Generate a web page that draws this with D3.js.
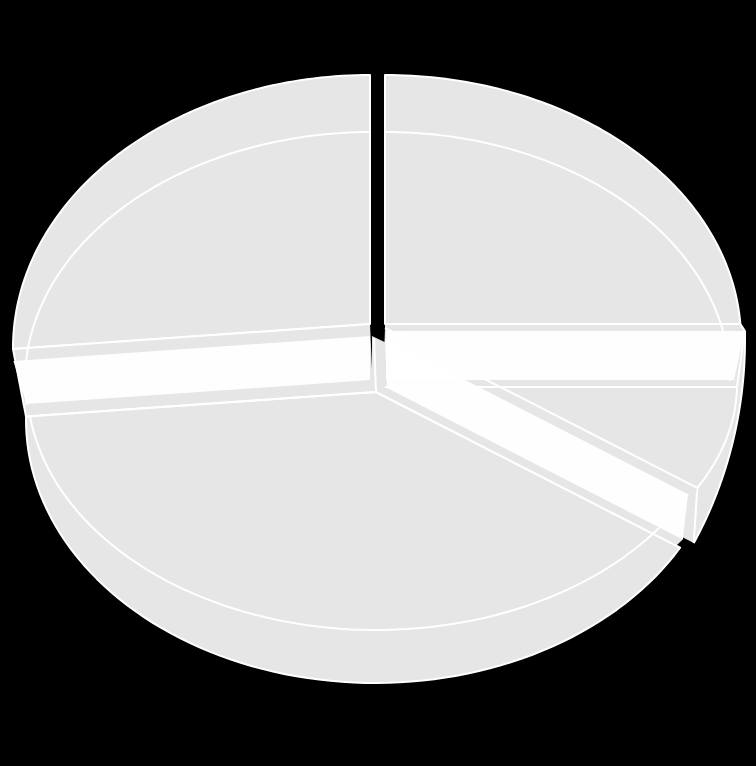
<!DOCTYPE html>
<html>
<head>
<meta charset="utf-8">
<script src="https://cdn.jsdelivr.net/npm/d3@7"></script>
<style>
	html,body{margin:0;padding:0;background:#000;}
	svg{display:block;}
</style>
</head>
<body>
<svg id="chart" width="756" height="766"></svg>
<script>
// slices, clockwise from 12 o'clock. the original has no labels
var sliceNames = ["topRight","smallRight","bottom","topLeft"];
var sliceValues = [25,10.1,38.3,26.6];

var GREY = "#e6e6e6";
var FLAT = 249/358; // how much the pie is squashed, sets the direction of the cuts

var pie = d3.pie().sort(null).value(function(d){ return d; });
var arcs = pie(sliceValues);
var cutTop = arcs[0].startAngle;
var cutRight = arcs[0].endAngle;
var cutDiag = arcs[1].endAngle;
var cutLeft = arcs[2].endAngle;
var cutTopEnd = arcs[3].endAngle;

// ellipses the pie is built from (pixels)
function ring(cx,cy,rx,ry){ return {cx:cx,cy:cy,rx:rx,ry:ry}; }
var rTL = ring(370,348,357,273);
var rTLlow = ring(372,381,347,249);
var rTR = ring(385,340,356,265);
var rTRlow = ring(385,381,345,249);
var rTRband = ring(385,381,349,249);
var rSmallWall = ring(385,340,360,395);
var rSmallTop = ring(385,384,352,225);
var rBig = ring(375,420,349,263);
var rBigTop = ring(376,384,349,246);
var rCut = ring(376,392,373,259);

// where a cut starting at p in direction a meets the ellipse
function hit(r,p,a){
	var dx = Math.sin(a), dy = -Math.cos(a)*FLAT;
	var ox = (p[0]-r.cx)/r.rx, oy = (p[1]-r.cy)/r.ry;
	var ux = dx/r.rx, uy = dy/r.ry;
	var A = ux*ux+uy*uy, B = 2*(ox*ux+oy*uy), C = ox*ox+oy*oy-1;
	var t = (-B+Math.sqrt(B*B-4*A*C))/(2*A);
	return [p[0]+t*dx,p[1]+t*dy];
}

function theta(r,p){
	return Math.atan2((p[0]-r.cx)/r.rx,-(p[1]-r.cy)/r.ry);
}

// points along the ellipse going clockwise between two points on it
function along(r,p0,p1){
	var t0 = theta(r,p0), t1 = theta(r,p1);
	while(t1<t0) t1 += 2*Math.PI;
	var n = 80;
	return d3.range(n+1).map(function(i){
		var t = t0+(t1-t0)*i/n;
		return [r.cx+r.rx*Math.sin(t),r.cy-r.ry*Math.cos(t)];
	});
}

var svg = d3.select("svg#chart");
var line = d3.line();

function fillShape(pts,color,edge,opacity){
	svg.append("path")
		.attr("d",line(pts)+"Z")
		.style("fill",color)
		.style("fill-opacity",opacity===undefined?1:opacity)
		.style("stroke",edge?"#fff":"none")
		.style("stroke-width",2)
		.style("stroke-linejoin","round");
}

function stroke(pts){
	svg.append("path")
		.attr("d",line(pts))
		.style("fill","none")
		.style("stroke","#fff")
		.style("stroke-width",2);
}

function band(pts){
	fillShape(pts,"#fff",false,0.95);
}

// top left slice
var hubTL = [370,324], hubTLband = [370,336], hubTLbandLow = [370,380], hubTLlow = [375,392];
var tlRimA = hit(rTL,hubTL,cutLeft), tlRimB = hit(rTL,hubTL,cutTopEnd);
fillShape([hubTL,tlRimA].concat(along(rTL,tlRimA,tlRimB)),GREY,true);
var tlLowRim = hit(rBig,hubTLlow,cutLeft);
fillShape([hubTL,tlRimA,tlLowRim,hubTLlow,[373,392]],GREY,false);
stroke([tlRimA,hubTL]);
stroke([tlRimA,tlLowRim]);
stroke(along(rTLlow,hit(rTLlow,[371,381],cutLeft),hit(rTLlow,[371,381],cutTopEnd)));
band([hubTLband,hit(rTL,hubTLband,cutLeft),hit(rBig,hubTLbandLow,cutLeft),hubTLbandLow]);

// top right slice
var hubTR = [385,324], hubTRband = [386,331], hubTRbandLow = [386,380], hubTRlow = [385,387];
var trRimA = hit(rTR,hubTR,cutTop), trRimB = hit(rTR,hubTR,cutRight);
fillShape([hubTR,trRimA].concat(along(rTR,trRimA,trRimB)),GREY,true);

// small slice, its wall first then its top
var hubWallA = [385,331], hubWallB = [385,385], hubSmall = [385,328];
var wallA = hit(rSmallWall,hubWallA,cutRight), wallB = hit(rSmallWall,hubWallB,cutDiag);
fillShape([hubWallA].concat(along(rSmallWall,wallA,wallB),[hubWallB]),GREY,false);
stroke(along(rSmallWall,wallA,wallB));
var smallA = hit(rSmallTop,hubTRlow,cutRight), smallB = hit(rSmallTop,hubSmall,cutDiag);
fillShape([hubSmall,hubTRlow].concat(along(rSmallTop,smallA,smallB)),GREY,false);
stroke(along(rSmallTop,smallA,smallB));
stroke([smallB,wallB]);

// cut face of the top right slice
fillShape([hubTR,trRimB,wallA,smallA,hubTRlow],GREY,false);
stroke([hubTR,trRimB]);
stroke([trRimB,wallA,smallA]);
stroke(along(rTRlow,hit(rTRlow,[385,381],cutTop),hit(rTRlow,[385,381],cutRight)));

// big slice
var hubBig = [376,392], hubBandTop = [385,339], hubBandLow = [387,388];
var bigA = hit(rCut,hubBig,cutDiag), bigB = hit(rBig,hubBig,cutLeft);
fillShape([hubBig,bigA].concat(along(rBig,hit(rBig,hubBig,cutDiag),bigB)),GREY,true);

var bandTopEnd = hit(rBigTop,hubBandTop,cutDiag), bandLowEnd = hit(rCut,hubBandLow,cutDiag);
fillShape([[372,336],[384.5,342],hubSmall,smallB,bandLowEnd,bigA,hubBig,[372,392]],GREY,false);
stroke([hubSmall,smallB]);
stroke([hubBig,bigA]);
stroke([hubTLlow,tlLowRim]);
stroke([[374,338],hubBig]);
stroke(along(rBigTop,hit(rBigTop,hubBandTop,cutDiag),hit(rBigTop,hubBig,cutLeft)));

// the two white faces on the right lie over everything, lines show faintly through
stroke([hubTRlow,smallA]);
band([hubTRband,hit(rSmallWall,hubTRband,cutRight),hit(rTRband,hubTRbandLow,cutRight),hubTRbandLow]);
band([hubBandTop,bandTopEnd,bandLowEnd,hubBandLow]);
</script>
</body>
</html>
